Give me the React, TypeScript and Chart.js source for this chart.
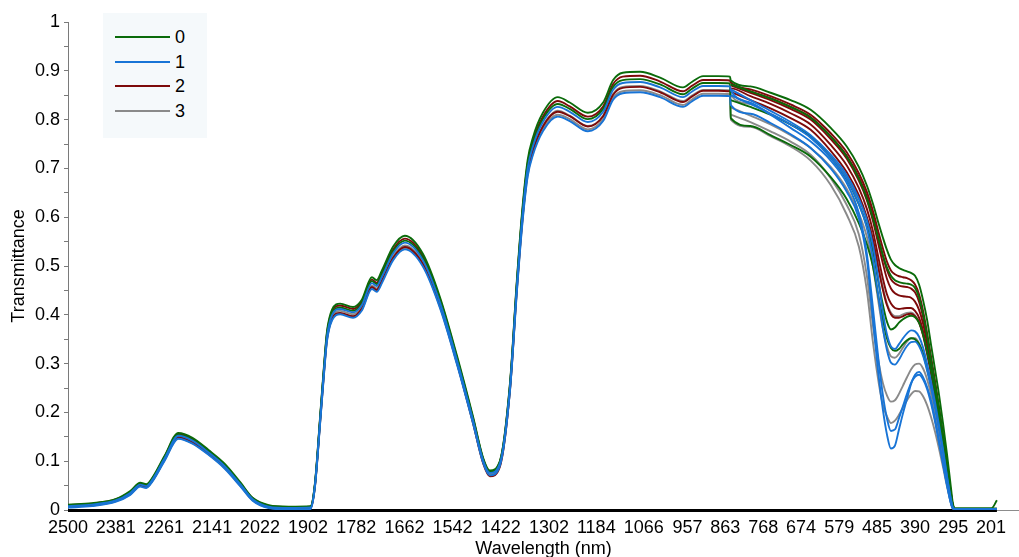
import React, { useEffect, useRef } from 'react';
import { Chart, registerables } from 'chart.js';

Chart.register(...registerables);

const FONT = "'Liberation Sans', Arial, Helvetica, sans-serif";

// ---- axis text ----
const X_TITLE = 'Wavelength (nm)';
const Y_TITLE = 'Transmittance';
const X_TICKS = [2500, 2381, 2261, 2141, 2022, 1902, 1782, 1662, 1542, 1422, 1302, 1184, 1066, 957, 863, 768, 674, 579, 485, 390, 295, 201];
const X_MIN = 131;
const X_MAX = 2500;
const Y_MIN = 0;
const Y_MAX = 1;

// ---- classes ----
const CLASS_LABELS = ['0', '1', '2', '3'];
const CLASS_COLORS = ['#0a6b0a', '#1874d6', '#7d0a0a', '#8a8a8a'];

// ---- NIR detector wavelengths (nm) ----
const NIR_W = [2500, 2440, 2380, 2345, 2320, 2305, 2290, 2260, 2225, 2190,
  2150, 2110, 2070, 2040, 2000, 1950, 1896, 1885, 1872, 1862,
  1855, 1842, 1822, 1790, 1768, 1743, 1731, 1718, 1690, 1661,
  1616, 1573, 1531, 1491, 1466, 1449, 1424, 1399, 1382, 1369,
  1355, 1342, 1317, 1280, 1250, 1205, 1167, 1142, 1118, 1075,
  1025, 968, 946, 918, 880, 851];

const NIR_G_UPPER = [0.011, 0.014, 0.023, 0.039, 0.056, 0.053, 0.066, 0.11, 0.158, 0.148,
  0.123, 0.095, 0.056, 0.025, 0.01, 0.007, 0.008, 0.054, 0.191, 0.299,
  0.365, 0.411, 0.423, 0.416, 0.431, 0.477, 0.471, 0.491, 0.54, 0.562,
  0.525, 0.435, 0.316, 0.191, 0.107, 0.081, 0.101, 0.26, 0.469, 0.609,
  0.717, 0.763, 0.814, 0.846, 0.835, 0.814, 0.835, 0.881, 0.896, 0.898,
  0.886, 0.866, 0.877, 0.889, 0.889, 0.888];
const NIR_G_LOWER = [0.009, 0.012, 0.021, 0.036, 0.053, 0.05, 0.063, 0.107, 0.154, 0.144,
  0.12, 0.092, 0.053, 0.023, 0.008, 0.005, 0.006, 0.051, 0.186, 0.293,
  0.358, 0.403, 0.415, 0.408, 0.423, 0.469, 0.463, 0.482, 0.53, 0.552,
  0.516, 0.427, 0.31, 0.186, 0.104, 0.078, 0.098, 0.254, 0.461, 0.599,
  0.705, 0.75, 0.801, 0.832, 0.822, 0.801, 0.822, 0.867, 0.881, 0.883,
  0.872, 0.852, 0.863, 0.875, 0.875, 0.874];
const NIR_R_UPPER = [0.01, 0.013, 0.022, 0.037, 0.054, 0.051, 0.064, 0.108, 0.156, 0.146,
  0.121, 0.093, 0.054, 0.024, 0.009, 0.006, 0.007, 0.052, 0.188, 0.295,
  0.361, 0.407, 0.419, 0.412, 0.427, 0.472, 0.466, 0.486, 0.534, 0.556,
  0.52, 0.431, 0.312, 0.188, 0.105, 0.079, 0.099, 0.257, 0.464, 0.603,
  0.71, 0.756, 0.806, 0.838, 0.827, 0.806, 0.827, 0.873, 0.888, 0.89,
  0.878, 0.858, 0.869, 0.881, 0.881, 0.88];
const NIR_R_LOWER = [0.007, 0.01, 0.019, 0.033, 0.05, 0.047, 0.06, 0.103, 0.149, 0.139,
  0.116, 0.088, 0.05, 0.021, 0.006, 0.003, 0.004, 0.048, 0.181, 0.286,
  0.35, 0.393, 0.404, 0.397, 0.413, 0.457, 0.451, 0.47, 0.517, 0.539,
  0.504, 0.417, 0.301, 0.178, 0.096, 0.069, 0.089, 0.246, 0.451, 0.587,
  0.692, 0.736, 0.786, 0.816, 0.807, 0.786, 0.807, 0.851, 0.865, 0.867,
  0.856, 0.836, 0.847, 0.859, 0.859, 0.858];
const NIR_B_MAIN = [0.008, 0.011, 0.02, 0.035, 0.052, 0.049, 0.062, 0.105, 0.152, 0.142,
  0.118, 0.09, 0.052, 0.022, 0.007, 0.004, 0.005, 0.05, 0.184, 0.29,
  0.355, 0.4, 0.412, 0.405, 0.42, 0.465, 0.459, 0.478, 0.526, 0.548,
  0.512, 0.424, 0.307, 0.184, 0.102, 0.076, 0.096, 0.252, 0.457, 0.594,
  0.7, 0.745, 0.795, 0.826, 0.816, 0.795, 0.816, 0.861, 0.875, 0.877,
  0.866, 0.846, 0.857, 0.869, 0.869, 0.868];
const NIR_B_LOWER = [0.005, 0.008, 0.017, 0.031, 0.048, 0.045, 0.058, 0.1, 0.146, 0.136,
  0.113, 0.085, 0.048, 0.019, 0.004, 0.001, 0.002, 0.046, 0.177, 0.281,
  0.345, 0.389, 0.401, 0.394, 0.409, 0.453, 0.447, 0.465, 0.512, 0.534,
  0.499, 0.413, 0.298, 0.177, 0.097, 0.071, 0.091, 0.244, 0.445, 0.579,
  0.683, 0.727, 0.776, 0.806, 0.797, 0.776, 0.797, 0.841, 0.854, 0.856,
  0.846, 0.826, 0.837, 0.849, 0.849, 0.848];
const NIR_GY_UPPER = [0.007, 0.01, 0.019, 0.033, 0.05, 0.047, 0.06, 0.103, 0.15, 0.14,
  0.116, 0.088, 0.05, 0.021, 0.006, 0.003, 0.004, 0.048, 0.181, 0.286,
  0.351, 0.396, 0.408, 0.401, 0.416, 0.46, 0.454, 0.473, 0.52, 0.542,
  0.507, 0.42, 0.303, 0.181, 0.1, 0.074, 0.094, 0.249, 0.452, 0.588,
  0.693, 0.738, 0.787, 0.818, 0.808, 0.787, 0.808, 0.853, 0.867, 0.869,
  0.858, 0.838, 0.849, 0.861, 0.861, 0.86];
const NIR_GY_LOWER = [0.006, 0.009, 0.018, 0.032, 0.049, 0.046, 0.059, 0.101, 0.147, 0.137,
  0.114, 0.086, 0.049, 0.02, 0.005, 0.002, 0.003, 0.047, 0.178, 0.283,
  0.347, 0.391, 0.403, 0.396, 0.411, 0.455, 0.449, 0.468, 0.515, 0.537,
  0.502, 0.415, 0.3, 0.178, 0.098, 0.072, 0.092, 0.246, 0.447, 0.582,
  0.686, 0.731, 0.78, 0.81, 0.801, 0.78, 0.801, 0.845, 0.858, 0.86,
  0.85, 0.83, 0.841, 0.853, 0.853, 0.852];

// ---- VIS detector wavelengths (nm) ----
const VIS_W = [849, 800, 750, 700, 650, 600, 560, 530, 510, 495,
  480, 470, 460, 450, 440, 430, 420, 410, 400, 390,
  380, 370, 360, 350, 340, 330, 320, 310, 300, 296,
  290, 250, 200, 186];

const VIS_G1 = [0.88, 0.868, 0.855, 0.84, 0.82, 0.783, 0.745, 0.703, 0.665, 0.628,
  0.585, 0.558, 0.533, 0.513, 0.502, 0.496, 0.492, 0.489, 0.486, 0.48,
  0.462, 0.43, 0.39, 0.338, 0.287, 0.235, 0.176, 0.112, 0.042, 0.015,
  0.003, 0.003, 0.003, 0.02];
const VIS_G2 = [0.872, 0.858, 0.843, 0.826, 0.804, 0.765, 0.724, 0.679, 0.638, 0.598,
  0.552, 0.522, 0.497, 0.48, 0.471, 0.467, 0.465, 0.464, 0.462, 0.455,
  0.436, 0.402, 0.357, 0.307, 0.257, 0.206, 0.15, 0.09, 0.03, 0.01,
  0.003, 0.003, 0.003, 0.003];
const VIS_G3 = [0.84, 0.826, 0.81, 0.79, 0.765, 0.722, 0.677, 0.627, 0.582, 0.532,
  0.462, 0.42, 0.386, 0.37, 0.374, 0.384, 0.391, 0.396, 0.398, 0.395,
  0.384, 0.36, 0.325, 0.285, 0.24, 0.19, 0.14, 0.08, 0.025, 0.008,
  0.002, 0.002, 0.002, 0.002];
const VIS_G4 = [0.803, 0.787, 0.768, 0.748, 0.724, 0.682, 0.637, 0.588, 0.545, 0.5,
  0.432, 0.39, 0.352, 0.332, 0.326, 0.33, 0.34, 0.348, 0.352, 0.35,
  0.34, 0.32, 0.29, 0.255, 0.215, 0.17, 0.125, 0.07, 0.02, 0.006,
  0.002, 0.002, 0.002, 0.002];

const VIS_R1 = [0.876, 0.862, 0.848, 0.831, 0.81, 0.772, 0.733, 0.69, 0.652, 0.613,
  0.566, 0.536, 0.509, 0.491, 0.483, 0.479, 0.477, 0.475, 0.471, 0.462,
  0.442, 0.408, 0.363, 0.313, 0.263, 0.208, 0.152, 0.092, 0.032, 0.01,
  0.002, 0.002, 0.002, 0.002];
const VIS_R2 = [0.87, 0.855, 0.84, 0.822, 0.8, 0.76, 0.72, 0.675, 0.635, 0.593,
  0.54, 0.505, 0.474, 0.454, 0.444, 0.44, 0.438, 0.437, 0.435, 0.427,
  0.41, 0.382, 0.342, 0.297, 0.248, 0.197, 0.142, 0.086, 0.028, 0.009,
  0.002, 0.002, 0.002, 0.002];
const VIS_R3 = [0.864, 0.848, 0.832, 0.813, 0.79, 0.748, 0.706, 0.66, 0.617, 0.572,
  0.512, 0.474, 0.442, 0.423, 0.414, 0.412, 0.413, 0.414, 0.414, 0.408,
  0.394, 0.367, 0.329, 0.286, 0.239, 0.19, 0.138, 0.082, 0.026, 0.008,
  0.002, 0.002, 0.002, 0.002];
const VIS_R4 = [0.857, 0.84, 0.823, 0.803, 0.779, 0.736, 0.692, 0.645, 0.6, 0.555,
  0.49, 0.451, 0.42, 0.401, 0.394, 0.394, 0.397, 0.401, 0.402, 0.397,
  0.384, 0.358, 0.321, 0.279, 0.233, 0.185, 0.134, 0.079, 0.025, 0.008,
  0.002, 0.002, 0.002, 0.002];
const VIS_R5 = [0.873, 0.858, 0.844, 0.826, 0.805, 0.766, 0.726, 0.682, 0.643, 0.603,
  0.553, 0.52, 0.492, 0.473, 0.464, 0.46, 0.458, 0.457, 0.454, 0.446,
  0.427, 0.396, 0.353, 0.305, 0.256, 0.203, 0.147, 0.089, 0.03, 0.01,
  0.002, 0.002, 0.002, 0.002];

const VIS_B1 = [0.83, 0.812, 0.793, 0.77, 0.742, 0.7, 0.652, 0.598, 0.515, 0.39,
  0.27, 0.205, 0.155, 0.126, 0.132, 0.165, 0.198, 0.228, 0.258, 0.277,
  0.283, 0.272, 0.252, 0.224, 0.185, 0.14, 0.095, 0.05, 0.012, 0.003,
  0.002, 0.002, 0.002, 0.002];
const VIS_B2 = [0.86, 0.835, 0.81, 0.783, 0.755, 0.716, 0.67, 0.608, 0.525, 0.415,
  0.3, 0.235, 0.188, 0.162, 0.165, 0.188, 0.213, 0.238, 0.26, 0.273,
  0.277, 0.268, 0.248, 0.218, 0.18, 0.137, 0.093, 0.05, 0.012, 0.003,
  0.002, 0.002, 0.002, 0.002];
const VIS_B3 = [0.85, 0.832, 0.812, 0.79, 0.763, 0.722, 0.678, 0.627, 0.578, 0.515,
  0.43, 0.372, 0.328, 0.302, 0.298, 0.308, 0.323, 0.336, 0.344, 0.345,
  0.336, 0.316, 0.286, 0.25, 0.21, 0.165, 0.118, 0.065, 0.018, 0.005,
  0.002, 0.002, 0.002, 0.002];
const VIS_B4 = [0.862, 0.84, 0.818, 0.795, 0.768, 0.728, 0.686, 0.638, 0.594, 0.543,
  0.465, 0.405, 0.36, 0.335, 0.33, 0.34, 0.352, 0.362, 0.368, 0.366,
  0.355, 0.333, 0.3, 0.262, 0.22, 0.173, 0.123, 0.068, 0.02, 0.006,
  0.002, 0.002, 0.002, 0.002];

const VIS_GY1 = [0.8, 0.785, 0.766, 0.745, 0.716, 0.666, 0.605, 0.54, 0.45, 0.345,
  0.258, 0.215, 0.192, 0.178, 0.183, 0.195, 0.21, 0.225, 0.237, 0.244,
  0.243, 0.233, 0.215, 0.19, 0.16, 0.125, 0.087, 0.047, 0.012, 0.003,
  0.002, 0.002, 0.002, 0.002];
const VIS_GY2 = [0.81, 0.795, 0.776, 0.755, 0.728, 0.68, 0.625, 0.565, 0.48, 0.38,
  0.3, 0.26, 0.235, 0.222, 0.225, 0.238, 0.255, 0.272, 0.288, 0.298,
  0.3, 0.29, 0.268, 0.237, 0.198, 0.152, 0.104, 0.055, 0.014, 0.004,
  0.002, 0.002, 0.002, 0.002];
const VIS_GY3 = [0.825, 0.808, 0.79, 0.768, 0.742, 0.703, 0.658, 0.608, 0.56, 0.5,
  0.42, 0.37, 0.335, 0.315, 0.312, 0.32, 0.333, 0.345, 0.352, 0.352,
  0.342, 0.322, 0.292, 0.256, 0.215, 0.168, 0.12, 0.066, 0.019, 0.005,
  0.002, 0.002, 0.002, 0.002];
const VIS_GY4 = [0.85, 0.832, 0.812, 0.79, 0.764, 0.724, 0.682, 0.638, 0.598, 0.555,
  0.495, 0.456, 0.423, 0.404, 0.397, 0.397, 0.401, 0.404, 0.405, 0.399,
  0.385, 0.359, 0.322, 0.279, 0.233, 0.185, 0.133, 0.077, 0.023, 0.007,
  0.002, 0.002, 0.002, 0.002];

// each class: list of [NIR part | null, VIS part]; drawing order (lower = on top)
const CLASS_CURVES: { order: number; curves: [number[] | null, number[]][] }[] = [
  { order: 1, curves: [[NIR_G_UPPER, VIS_G1], [NIR_G_LOWER, VIS_G4], [null, VIS_G2], [null, VIS_G3]] },
  { order: 0, curves: [[NIR_B_MAIN, VIS_B2], [NIR_B_LOWER, VIS_B1], [null, VIS_B3], [null, VIS_B4]] },
  { order: 2, curves: [[NIR_R_UPPER, VIS_R1], [NIR_R_LOWER, VIS_R3], [null, VIS_R2], [null, VIS_R4], [null, VIS_R5]] },
  { order: 3, curves: [[NIR_GY_UPPER, VIS_GY4], [NIR_GY_LOWER, VIS_GY1], [null, VIS_GY2], [null, VIS_GY3]] },
];

function buildDatasets() {
  const out: any[] = [];
  CLASS_CURVES.forEach((cls, ci) => {
    cls.curves.forEach(([nir, vis]) => {
      const pts: { x: number; y: number }[] = [];
      if (nir) NIR_W.forEach((w, i) => pts.push({ x: w, y: nir[i] }));
      VIS_W.forEach((w, i) => pts.push({ x: w, y: vis[i] }));
      out.push({
        label: CLASS_LABELS[ci],
        data: pts,
        borderColor: CLASS_COLORS[ci],
        backgroundColor: CLASS_COLORS[ci],
        borderWidth: 1.9,
        pointRadius: 0,
        fill: false,
        cubicInterpolationMode: 'monotone',
        order: cls.order,
      });
    });
  });
  return out;
}

const baselinePlugin = {
  id: 'baseline',
  beforeDatasetsDraw(chart: any) {
    const { ctx, chartArea, scales } = chart;
    const x = scales.x;
    const y = scales.y;
    const y0 = Math.round(y.getPixelForValue(Y_MIN));
    ctx.save();
    ctx.strokeStyle = '#8c8c8c';
    ctx.lineWidth = 1;
    ctx.beginPath();
    ctx.moveTo(chartArea.left, y0 + 0.5);
    ctx.lineTo(chartArea.right, y0 + 0.5);
    ctx.stroke();
    ctx.strokeStyle = '#000';
    ctx.lineWidth = 3;
    ctx.beginPath();
    ctx.moveTo(x.getPixelForValue(NIR_W[0]), y0 + 0.5);
    ctx.lineTo(x.getPixelForValue(VIS_W[VIS_W.length - 1]), y0 + 0.5);
    ctx.stroke();
    ctx.restore();
  },
};

export default function App() {
  const ref = useRef<HTMLCanvasElement>(null);
  useEffect(() => {
    if (!ref.current) return;
    const chart = new Chart(ref.current, {
      type: 'line',
      data: { datasets: buildDatasets() },
      options: {
        animation: false,
        responsive: false,
        devicePixelRatio: 1,
        layout: { padding: { top: 22, left: 0, right: 0, bottom: 0 } },
        plugins: { legend: { display: false }, tooltip: { enabled: false } },
        scales: {
          x: {
            type: 'linear',
            reverse: true,
            min: X_MIN,
            max: X_MAX,
            afterBuildTicks: (s: any) => { s.ticks = X_TICKS.map((v) => ({ value: v })); },
            afterFit: (s: any) => { s.height = 47; },
            grid: { display: false, drawTicks: false },
            border: { display: false },
            ticks: {
              autoSkip: false,
              maxRotation: 0,
              padding: 7,
              color: '#000',
              font: { family: FONT, size: 18 },
              callback: (v: any) => String(v),
            },
            title: {
              display: true,
              text: X_TITLE,
              color: '#000',
              font: { family: FONT, size: 18 },
              padding: { top: 0, bottom: -3 },
            },
          },
          y: {
            type: 'linear',
            min: Y_MIN,
            max: Y_MAX,
            afterFit: (s: any) => { s.width = 68; },
            grid: { drawOnChartArea: false, drawTicks: true, tickLength: 4, color: '#7a7a7a' },
            border: { display: true, color: '#7a7a7a', width: 1 },
            ticks: {
              stepSize: 0.05,
              autoSkip: false,
              padding: 4,
              color: '#000',
              font: { family: FONT, size: 18 },
              callback: (v: any) => {
                const n = Math.round(v * 100);
                if (n % 10 !== 0) return '';
                return n === 0 ? '0' : n === 100 ? '1' : (n / 100).toFixed(1);
              },
            },
            title: {
              display: true,
              text: Y_TITLE,
              color: '#000',
              font: { family: FONT, size: 18 },
              padding: { top: 8, bottom: 0 },
            },
          },
        },
      },
      plugins: [baselinePlugin],
    } as any);
    return () => chart.destroy();
  }, []);

  return (
    <div style={{ position: 'absolute', left: 0, top: 0, width: 1019, height: 557, background: '#fff' }}>
      <canvas ref={ref} width={1019} height={557} style={{ display: 'block' }} />
      <div
        style={{
          position: 'absolute', left: 103, top: 13, width: 104, height: 125,
          background: '#f5f9fb', fontFamily: FONT, fontSize: 18, color: '#000',
        }}
      >
        {CLASS_LABELS.map((lab, i) => (
          <div key={lab} style={{ position: 'absolute', left: 12, top: 12 + i * 24.5, height: 24, display: 'flex', alignItems: 'center' }}>
            <div style={{ width: 55, height: 2, background: CLASS_COLORS[i] }} />
            <span style={{ marginLeft: 5, lineHeight: '24px' }}>{lab}</span>
          </div>
        ))}
      </div>
    </div>
  );
}
